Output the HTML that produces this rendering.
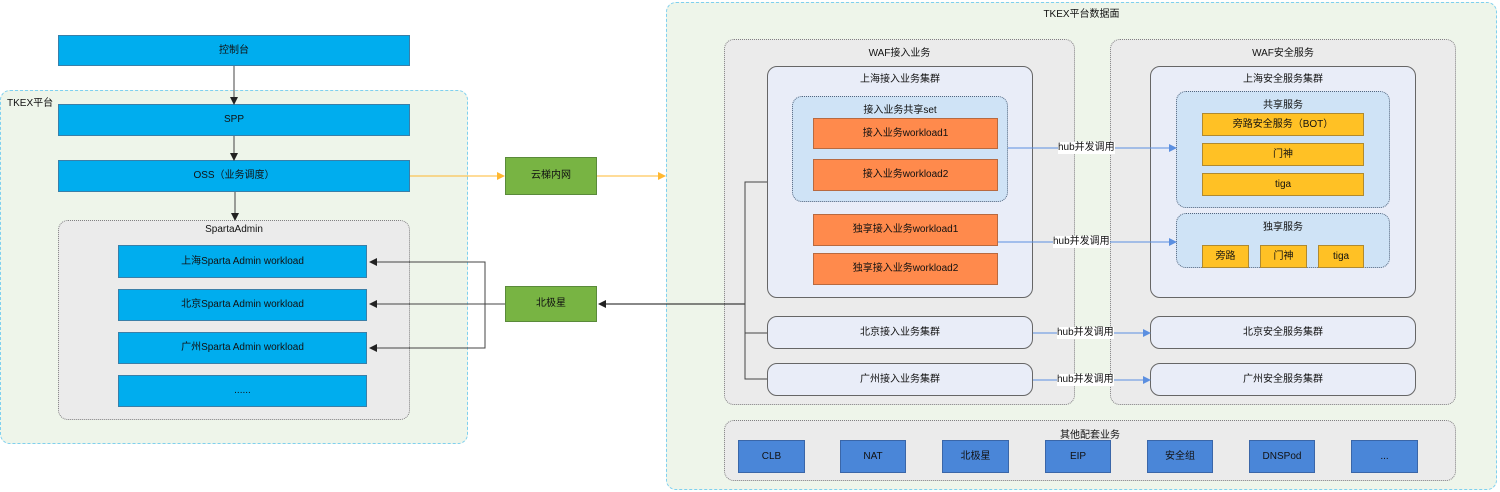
<!DOCTYPE html>
<html><head><meta charset="utf-8"><style>
*{box-sizing:border-box;margin:0;padding:0}
body{width:1500px;height:492px;background:#fff;position:relative;overflow:hidden;font-family:"Liberation Sans","Noto Sans CJK SC",sans-serif;font-size:10px;color:#111}
.a{position:absolute}
.c{display:flex;align-items:center;justify-content:center;text-align:center;line-height:12px}
.blue{background:#00adee;border:1px solid #3a7fa8}
.grn{background:#78b443;border:1px solid #5a8a3a}
.org{background:#ff8a4c;border:1px solid #b86a40}
.yel{background:#ffc125;border:1px solid #b08a30}
.dk{background:#4a86d8;border:1px solid #3a66a8}
.dot{border:1px dotted #808080;border-radius:10px;background:#ebebeb}
.clu{border:1px solid #666;border-radius:10px;background:#e9edf8}
.set{border:1px dotted #55657d;border-radius:10px;background:#cfe3f6}
.t{position:absolute;left:0;right:0;text-align:center}
</style></head><body>
<div class="a" style="left:0;top:90px;width:468px;height:354px;border:1.5px dashed #7fd0ef;border-radius:10px;background:#eef5ea"></div>
<div class="a" style="left:7px;top:94px">TKEX平台</div>
<div class="a" style="left:666px;top:2px;width:831px;height:488px;border:1.5px dashed #7fd0ef;border-radius:10px;background:#eef5ea"></div>
<div class="a" style="left:666px;top:5px;width:831px;text-align:center">TKEX平台数据面</div>

<div class="a blue c" style="left:58px;top:35px;width:352px;height:31px">控制台</div>
<div class="a blue c" style="left:58px;top:104px;width:352px;height:32px">SPP</div>
<div class="a blue c" style="left:58px;top:160px;width:352px;height:32px">OSS（业务调度）</div>
<div class="a dot" style="left:58px;top:220px;width:352px;height:200px"><div class="t" style="top:3px">SpartaAdmin</div></div>
<div class="a blue c" style="left:118px;top:245px;width:249px;height:33px">上海Sparta Admin workload</div>
<div class="a blue c" style="left:118px;top:289px;width:249px;height:32px">北京Sparta Admin workload</div>
<div class="a blue c" style="left:118px;top:332px;width:249px;height:32px">广州Sparta Admin workload</div>
<div class="a blue c" style="left:118px;top:375px;width:249px;height:32px">......</div>

<div class="a grn c" style="left:505px;top:157px;width:92px;height:38px">云梯内网</div>
<div class="a grn c" style="left:505px;top:286px;width:92px;height:36px">北极星</div>

<div class="a dot" style="left:724px;top:39px;width:351px;height:366px"><div class="t" style="top:4px">WAF接入业务</div></div>
<div class="a clu" style="left:767px;top:66px;width:266px;height:232px"><div class="t" style="top:3px">上海接入业务集群</div></div>
<div class="a set" style="left:792px;top:96px;width:216px;height:106px"><div class="t" style="top:4px">接入业务共享set</div></div>
<div class="a org c" style="left:813px;top:118px;width:185px;height:31px">接入业务workload1</div>
<div class="a org c" style="left:813px;top:159px;width:185px;height:32px">接入业务workload2</div>
<div class="a org c" style="left:813px;top:214px;width:185px;height:32px">独享接入业务workload1</div>
<div class="a org c" style="left:813px;top:253px;width:185px;height:32px">独享接入业务workload2</div>
<div class="a clu c" style="left:767px;top:316px;width:266px;height:33px">北京接入业务集群</div>
<div class="a clu c" style="left:767px;top:363px;width:266px;height:33px">广州接入业务集群</div>

<div class="a dot" style="left:1110px;top:39px;width:346px;height:366px"><div class="t" style="top:4px">WAF安全服务</div></div>
<div class="a clu" style="left:1150px;top:66px;width:266px;height:232px"><div class="t" style="top:3px">上海安全服务集群</div></div>
<div class="a set" style="left:1176px;top:91px;width:214px;height:117px"><div class="t" style="top:4px">共享服务</div></div>
<div class="a yel c" style="left:1202px;top:113px;width:162px;height:23px">旁路安全服务（BOT）</div>
<div class="a yel c" style="left:1202px;top:143px;width:162px;height:23px">门神</div>
<div class="a yel c" style="left:1202px;top:173px;width:162px;height:23px">tiga</div>
<div class="a set" style="left:1176px;top:213px;width:214px;height:55px"><div class="t" style="top:4px">独享服务</div></div>
<div class="a yel c" style="left:1202px;top:245px;width:47px;height:23px">旁路</div>
<div class="a yel c" style="left:1260px;top:245px;width:47px;height:23px">门神</div>
<div class="a yel c" style="left:1318px;top:245px;width:46px;height:23px">tiga</div>
<div class="a clu c" style="left:1150px;top:316px;width:266px;height:33px">北京安全服务集群</div>
<div class="a clu c" style="left:1150px;top:363px;width:266px;height:33px">广州安全服务集群</div>

<div class="a dot" style="left:724px;top:420px;width:732px;height:61px"><div class="t" style="top:5px">其他配套业务</div></div>
<div class="a dk c" style="left:738px;top:440px;width:67px;height:33px">CLB</div>
<div class="a dk c" style="left:840px;top:440px;width:66px;height:33px">NAT</div>
<div class="a dk c" style="left:942px;top:440px;width:67px;height:33px">北极星</div>
<div class="a dk c" style="left:1045px;top:440px;width:66px;height:33px">EIP</div>
<div class="a dk c" style="left:1147px;top:440px;width:66px;height:33px">安全组</div>
<div class="a dk c" style="left:1249px;top:440px;width:66px;height:33px">DNSPod</div>
<div class="a dk c" style="left:1351px;top:440px;width:67px;height:33px">...</div>

<svg class="a" style="left:0;top:0" width="1500" height="492">
<defs>
<marker id="k" markerWidth="8" markerHeight="8" refX="7" refY="4" orient="auto" markerUnits="userSpaceOnUse"><path d="M0,0L8,4L0,8z" fill="#222"/></marker>
<marker id="y" markerWidth="8" markerHeight="8" refX="7" refY="4" orient="auto" markerUnits="userSpaceOnUse"><path d="M0,0L8,4L0,8z" fill="#ffb830"/></marker>
<marker id="b" markerWidth="8" markerHeight="8" refX="7" refY="4" orient="auto" markerUnits="userSpaceOnUse"><path d="M0,0L8,4L0,8z" fill="#5b8fe0"/></marker>
</defs>
<g stroke="#444" fill="none" stroke-width="1">
<path d="M234,66V104" marker-end="url(#k)"/>
<path d="M234,136V160" marker-end="url(#k)"/>
<path d="M235,192V220" marker-end="url(#k)"/>
<path d="M505,304H370" marker-end="url(#k)"/>
<path d="M485,304V262H370" marker-end="url(#k)"/>
<path d="M485,304V348H370" marker-end="url(#k)"/>
<path d="M745,304H599" stroke="#111" marker-end="url(#k)"/>
<path d="M767,182H745V379H767M745,333H767"/>
</g>
<g stroke="#ffb830" fill="none">
<path d="M410,176H504" marker-end="url(#y)"/>
<path d="M597,176H665" marker-end="url(#y)"/>
</g>
<g stroke="#5b8fe0" fill="none">
<path d="M1008,148H1176" marker-end="url(#b)"/>
<path d="M998,242H1176" marker-end="url(#b)"/>
<path d="M1033,333H1150" marker-end="url(#b)"/>
<path d="M1033,380H1150" marker-end="url(#b)"/>
</g>
</svg>
<div class="a" style="left:1058px;top:142px;background:#fff;line-height:12px">hub并发调用</div>
<div class="a" style="left:1053px;top:236px;background:#fff;line-height:12px">hub并发调用</div>
<div class="a" style="left:1057px;top:327px;background:#fff;line-height:12px">hub并发调用</div>
<div class="a" style="left:1057px;top:374px;background:#fff;line-height:12px">hub并发调用</div>
</body></html>
